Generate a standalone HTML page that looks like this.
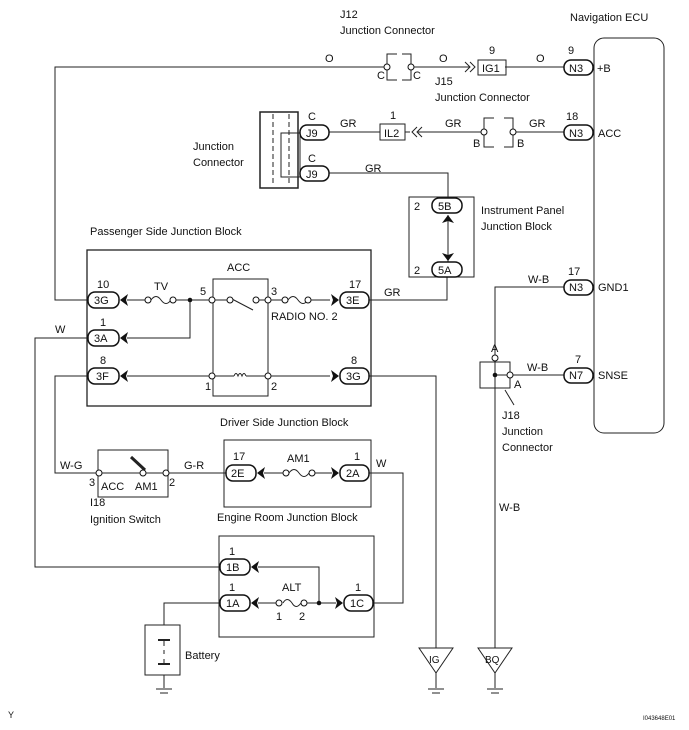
<!DOCTYPE html>
<html><head><meta charset="utf-8"><style>
html,body{margin:0;padding:0;background:#fff;}
svg{display:block;}
text{font-family:"Liberation Sans",sans-serif;font-size:11px;fill:#111;}
</style></head><body>
<svg width="689" height="730" viewBox="0 0 689 730" xmlns="http://www.w3.org/2000/svg">
<g stroke="#222" stroke-width="1" fill="none">
<rect x="594" y="38" width="70" height="395" rx="10"/>
<polyline points="88,300 55,300 55,67 387,67"/>
<line x1="411" y1="67" x2="470" y2="67"/>
<line x1="505" y1="67" x2="564" y2="67"/>
<polyline points="387,67 387,54 397,54"/><polyline points="387,67 387,80 397,80"/>
<polyline points="411,67 411,54 402,54"/><polyline points="411,67 411,80 402,80"/>
<rect x="478" y="60" width="28" height="15"/>
<polyline points="465,62 470,67 465,72"/><polyline points="470,62 475,67 470,72"/>
<line x1="329" y1="132" x2="380" y2="132"/>
<line x1="405" y1="132" x2="410" y2="132"/>
<polyline points="417,127 412,132 417,137"/><polyline points="422,127 417,132 422,137"/>
<line x1="418" y1="132" x2="484" y2="132"/>
<line x1="513" y1="132" x2="564" y2="132"/>
<rect x="380" y="124" width="25" height="16"/>
<polyline points="484,132 484,118 494,118"/><polyline points="484,132 484,147 494,147"/>
<polyline points="513,132 513,118 504,118"/><polyline points="513,132 513,147 504,147"/>
<rect x="260" y="112" width="38" height="76" stroke-width="1.5"/>
<line x1="273" y1="114" x2="273" y2="186" stroke-dasharray="5,3"/>
<line x1="289" y1="114" x2="289" y2="186" stroke-dasharray="5,3"/>
<rect x="281" y="133" width="19" height="44"/>
<polyline points="329,173 448,173 448,198"/>
<rect x="409" y="197" width="65" height="80"/>
<line x1="448" y1="215" x2="448" y2="262"/>
<rect x="87" y="250" width="284" height="156" stroke-width="1.3"/>
<line x1="127" y1="300" x2="145" y2="300"/>
<path d="M151,300 q5,-7 10,0 q5,7 10,0"/>
<line x1="176" y1="300" x2="209" y2="300"/>
<polyline points="127,338 190,338 190,300"/>
<rect x="213" y="279" width="55" height="117"/>
<line x1="215" y1="300" x2="227" y2="300"/>
<line x1="232" y1="299" x2="253" y2="310"/>
<line x1="259" y1="300" x2="266" y2="300"/>
<line x1="271" y1="300" x2="282" y2="300"/>
<path d="M288,300 q5,-7 10,0 q5,7 10,0"/>
<line x1="311" y1="300" x2="330" y2="300"/>
<polyline points="369,300 447,300 447,277"/>
<line x1="127" y1="376" x2="209" y2="376"/>
<line x1="215" y1="376" x2="234" y2="376"/>
<path d="M234,376 q2,-5 4,0 q2,-5 4,0 q2,-5 4,0"/>
<line x1="246" y1="376" x2="265" y2="376"/>
<line x1="271" y1="376" x2="330" y2="376"/>
<polyline points="88,338 35,338 35,567 220,567"/>
<polyline points="88,376 55,376 55,473 96,473"/>
<polyline points="369,376 436,376 436,648"/>
<polyline points="564,287 495,287 495,355"/>
<line x1="495" y1="361" x2="495" y2="648"/>
<rect x="480" y="362" width="30" height="26"/>
<line x1="495" y1="375" x2="507" y2="375"/>
<line x1="513" y1="375" x2="564" y2="375"/>
<line x1="505" y1="390" x2="514" y2="405"/>
<rect x="98" y="450" width="70" height="47"/>
<line x1="102" y1="473" x2="140" y2="473"/>
<line x1="146" y1="473" x2="163" y2="473"/>
<line x1="145" y1="470" x2="131" y2="457" stroke-width="3"/>
<line x1="169" y1="473" x2="226" y2="473"/>
<rect x="224" y="440" width="147" height="67"/>
<line x1="264" y1="473" x2="283" y2="473"/>
<path d="M289,473 q5,-7 10,0 q5,7 10,0"/>
<line x1="315" y1="473" x2="332" y2="473"/>
<polyline points="369,473 403,473 403,603 373,603"/>
<rect x="219" y="536" width="155" height="101"/>
<polyline points="258,567 319,567 319,603"/>
<line x1="258" y1="603" x2="276" y2="603"/>
<path d="M283,603 q4,-7 9,0 q4,7 9,0"/>
<line x1="307" y1="603" x2="336" y2="603"/>
<polyline points="220,603 164,603 164,625"/>
<rect x="145" y="625" width="35" height="50"/>
<line x1="164" y1="675" x2="164" y2="688"/>
<line x1="158" y1="640" x2="170" y2="640" stroke-width="2"/>
<line x1="164" y1="640" x2="164" y2="646"/>
<line x1="164" y1="650" x2="164" y2="654"/>
<line x1="164" y1="659" x2="164" y2="664"/>
<line x1="158" y1="664" x2="170" y2="664" stroke-width="2"/>
<polygon points="419,648 453,648 436,673"/>
<polygon points="478,648 512,648 495,673"/>
<line x1="436" y1="673" x2="436" y2="688"/>
<line x1="495" y1="673" x2="495" y2="688"/>
<line x1="156" y1="689" x2="172" y2="689"/><line x1="160" y1="693" x2="168" y2="693"/>
<line x1="428" y1="689" x2="444" y2="689"/><line x1="432" y1="693" x2="440" y2="693"/>
<line x1="487" y1="689" x2="503" y2="689"/><line x1="491" y1="693" x2="499" y2="693"/>
</g>
<g stroke="#111" stroke-width="1.5" fill="#fff">
<rect x="564" y="60" width="29" height="15" rx="7"/>
<rect x="564" y="125" width="29" height="15" rx="7"/>
<rect x="564" y="280" width="29" height="15" rx="7"/>
<rect x="564" y="368" width="29" height="15" rx="7"/>
<rect x="300" y="125" width="29" height="15" rx="7"/>
<rect x="300" y="166" width="29" height="15" rx="7"/>
<rect x="432" y="198" width="30" height="15" rx="7"/>
<rect x="432" y="262" width="30" height="15" rx="7"/>
<rect x="88" y="292" width="31" height="16" rx="7"/>
<rect x="88" y="330" width="31" height="16" rx="7"/>
<rect x="88" y="368" width="31" height="16" rx="7"/>
<rect x="340" y="292" width="29" height="16" rx="7"/>
<rect x="340" y="368" width="29" height="16" rx="7"/>
<rect x="226" y="465" width="30" height="16" rx="7"/>
<rect x="340" y="465" width="29" height="16" rx="7"/>
<rect x="220" y="559" width="30" height="16" rx="7"/>
<rect x="220" y="595" width="30" height="16" rx="7"/>
<rect x="344" y="595" width="29" height="16" rx="7"/>
</g>
<g stroke="#111" stroke-width="1" fill="#fff">
<circle cx="387" cy="67" r="3"/><circle cx="411" cy="67" r="3"/>
<circle cx="484" cy="132" r="3"/><circle cx="513" cy="132" r="3"/>
<circle cx="148" cy="300" r="3"/><circle cx="173" cy="300" r="3"/>
<circle cx="212" cy="300" r="3"/><circle cx="230" cy="300" r="3"/><circle cx="256" cy="300" r="3"/><circle cx="268" cy="300" r="3"/>
<circle cx="285" cy="300" r="3"/><circle cx="308" cy="300" r="3"/>
<circle cx="212" cy="376" r="3"/><circle cx="268" cy="376" r="3"/>
<circle cx="99" cy="473" r="3"/><circle cx="143" cy="473" r="3"/><circle cx="166" cy="473" r="3"/>
<circle cx="286" cy="473" r="3"/><circle cx="312" cy="473" r="3"/>
<circle cx="279" cy="603" r="3"/><circle cx="304" cy="603" r="3"/>
<circle cx="495" cy="358" r="3"/><circle cx="510" cy="375" r="3"/>
</g>
<g fill="#111">
<circle cx="190" cy="300" r="2.3"/><circle cx="319" cy="603" r="2.3"/><circle cx="495" cy="375" r="2.3"/>
<polygon points="120,300 128,294 126,300 128,306"/>
<polygon points="120,338 128,332 126,338 128,344"/>
<polygon points="120,376 128,370 126,376 128,382"/>
<polygon points="257,473 265,467 263,473 265,479"/>
<polygon points="251,567 259,561 257,567 259,573"/>
<polygon points="251,603 259,597 257,603 259,609"/>
<polygon points="339,300 331,294 333,300 331,306"/>
<polygon points="339,376 331,370 333,376 331,382"/>
<polygon points="339,473 331,467 333,473 331,479"/>
<polygon points="343,603 335,597 337,603 335,609"/>
<polygon points="448,215 442,223 448,221 454,223"/>
<polygon points="448,261 442,253 448,255 454,253"/>
</g>
<text x="340" y="18">J12</text>
<text x="340" y="34">Junction Connector</text>
<text x="570" y="21">Navigation ECU</text>
<text x="325" y="62">O</text><text x="439" y="62">O</text><text x="536" y="62">O</text>
<text x="377" y="79">C</text><text x="413" y="79">C</text>
<text x="489" y="54">9</text><text x="568" y="54">9</text>
<text x="482" y="72">IG1</text><text x="569" y="72">N3</text><text x="597" y="72">+B</text>
<text x="435" y="85">J15</text><text x="435" y="101">Junction Connector</text>
<text x="308" y="120">C</text><text x="340" y="127">GR</text><text x="390" y="119">1</text>
<text x="384" y="137">IL2</text><text x="306" y="137">J9</text>
<text x="445" y="127">GR</text><text x="529" y="127">GR</text>
<text x="473" y="147">B</text><text x="517" y="147">B</text>
<text x="566" y="120">18</text><text x="569" y="137">N3</text><text x="598" y="137">ACC</text>
<text x="193" y="150">Junction</text><text x="193" y="166">Connector</text>
<text x="308" y="162">C</text><text x="306" y="178">J9</text><text x="365" y="172">GR</text>
<text x="414" y="210">2</text><text x="438" y="210">5B</text>
<text x="481" y="214">Instrument Panel</text><text x="481" y="230">Junction Block</text>
<text x="90" y="235">Passenger Side Junction Block</text>
<text x="414" y="274">2</text><text x="438" y="274">5A</text>
<text x="227" y="271">ACC</text>
<text x="97" y="288">10</text><text x="94" y="304">3G</text>
<text x="154" y="290">TV</text><text x="200" y="295">5</text><text x="271" y="295">3</text>
<text x="349" y="288">17</text><text x="346" y="304">3E</text>
<text x="271" y="320">RADIO NO. 2</text><text x="384" y="296">GR</text>
<text x="100" y="326">1</text><text x="94" y="342">3A</text><text x="55" y="333">W</text>
<text x="100" y="364">8</text><text x="96" y="380">3F</text>
<text x="205" y="390">1</text><text x="271" y="390">2</text>
<text x="351" y="364">8</text><text x="346" y="380">3G</text>
<text x="528" y="283">W-B</text><text x="568" y="275">17</text><text x="569" y="291">N3</text><text x="598" y="291">GND1</text>
<text x="491" y="352">A</text><text x="514" y="388">A</text><text x="527" y="371">W-B</text>
<text x="575" y="363">7</text><text x="569" y="379">N7</text><text x="598" y="379">SNSE</text>
<text x="502" y="419">J18</text><text x="502" y="435">Junction</text><text x="502" y="451">Connector</text>
<text x="220" y="426">Driver Side Junction Block</text>
<text x="60" y="469">W-G</text><text x="184" y="469">G-R</text>
<text x="89" y="486">3</text><text x="169" y="486">2</text>
<text x="101" y="490">ACC</text><text x="135" y="490">AM1</text>
<text x="90" y="506">I18</text><text x="90" y="523">Ignition Switch</text>
<text x="233" y="460">17</text><text x="231" y="477">2E</text>
<text x="287" y="462">AM1</text><text x="354" y="460">1</text><text x="346" y="477">2A</text>
<text x="376" y="467">W</text>
<text x="217" y="521">Engine Room Junction Block</text>
<text x="229" y="555">1</text><text x="226" y="571">1B</text>
<text x="229" y="591">1</text><text x="226" y="607">1A</text>
<text x="282" y="591">ALT</text><text x="276" y="620">1</text><text x="299" y="620">2</text>
<text x="355" y="591">1</text><text x="350" y="607">1C</text>
<text x="185" y="659">Battery</text>
<text x="499" y="511">W-B</text>
<text x="429" y="663" style="font-size:10px">IG</text><text x="485" y="663" style="font-size:10px">BQ</text>
<text x="8" y="718" style="font-size:9px">Y</text>
<text x="643" y="720" style="font-size:6px">I043648E01</text>
</svg>
</body></html>
